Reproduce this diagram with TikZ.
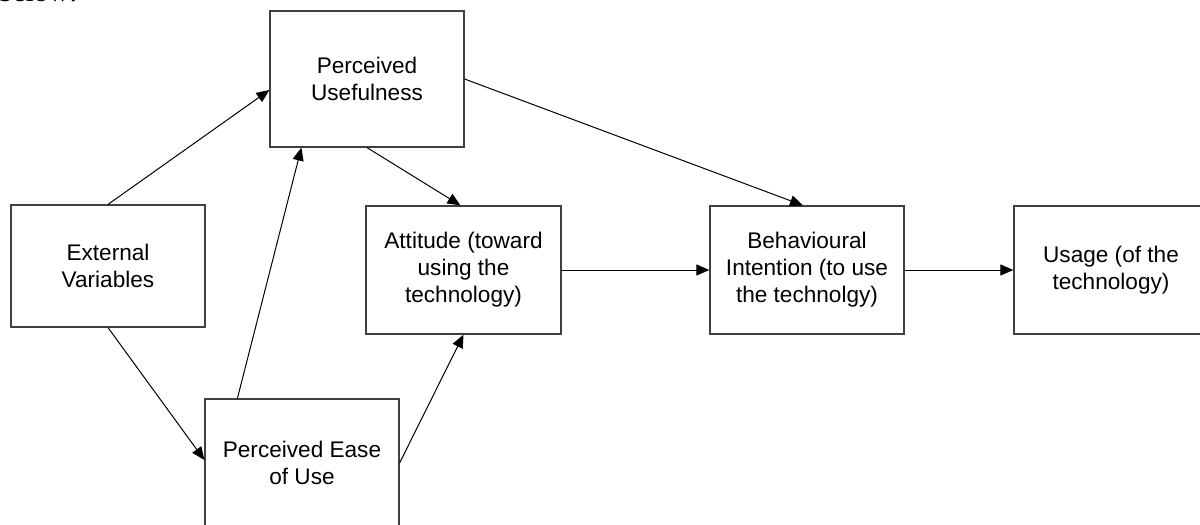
\documentclass[tikz,border=0pt]{standalone}
\usepackage{fontspec}
\setmainfont{Liberation Sans}
\newfontfamily\serifdoc{Liberation Serif}
\usetikzlibrary{arrows.meta,calc}
\begin{document}
\begin{tikzpicture}[x=0.5pt,y=-0.5pt,
  box/.style={draw=black!75, line width=0.6pt, fill=white, align=center, inner sep=0pt,
    minimum width=97pt, minimum height=64pt, font=\fontsize{11.3}{13.5}\selectfont},
  conn/.style={draw=black, line width=0.5pt, -{Triangle[length=6.5pt,width=5.5pt]}}]
\useasboundingbox (0,0) rectangle (1200,525);
\clip (0,0) rectangle (1200,525);
\node[anchor=base west, inner sep=0pt, font=\serifdoc\fontsize{14.5}{17}\selectfont] (below) at (-2,1) {below:};
\node[box, minimum height=68pt] (pu) at (367,79) {Perceived\\Usefulness};
\node[box, minimum height=61pt] (ev) at (108,266) {External\\Variables};
\node[box] (peou) at (302,463) {Perceived Ease\\of Use};
\node[box, minimum width=97.5pt] (att) at (463.5,270) {Attitude (toward\\using the\\technology)};
\node[box] (bi) at (807,270) {Behavioural\\Intention (to use\\the technolgy)};
\node[box] (us) at (1111,270) {Usage (of the\\technology)};
\draw[conn] (ev.north) -- ($(pu.west)+(0,11)$);
\draw[conn] (ev.south) -- ($(peou.west)+(0,-3)$);
\draw[conn] ($(peou.north west)+(33,0)$) -- ($(pu.south west)+(32,0)$);
\draw[conn] (peou.east) -- (att.south);
\draw[conn] (pu.south) -- ($(att.north)+(-3,0)$);
\draw[conn] (pu.east) -- ($(bi.north)+(-4,0)$);
\draw[conn] (att.east) -- (bi.west);
\draw[conn] (bi.east) -- (us.west);
\end{tikzpicture}
\end{document}
